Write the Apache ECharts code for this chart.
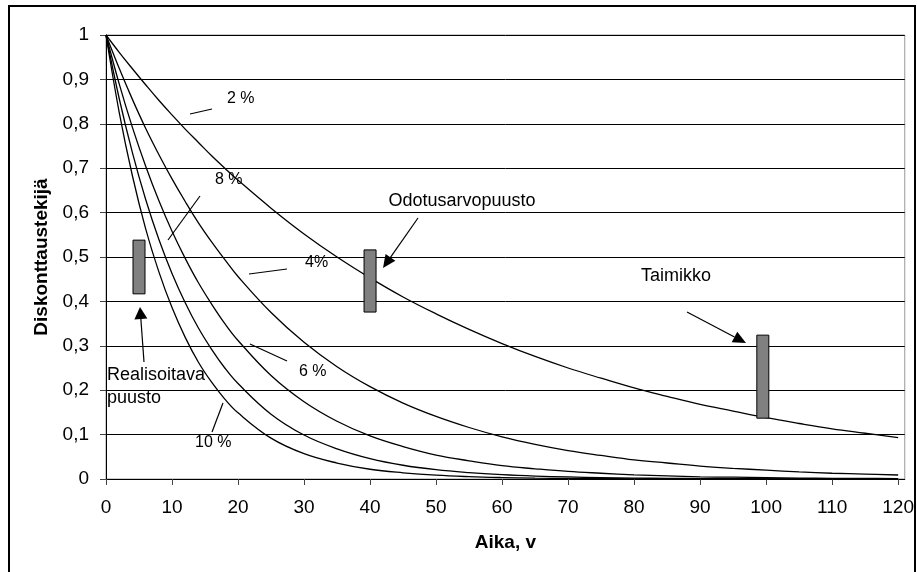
<!DOCTYPE html>
<html>
<head>
<meta charset="utf-8">
<script src="https://cdn.jsdelivr.net/npm/echarts@6/dist/echarts.min.js"></script>
<style>
html,body{margin:0;padding:0;background:#fff;}
#chart{width:917px;height:572px;}
</style>
</head>
<body>
<div id="chart"></div>
<script>
// ---- data ----
const years = [0,2,4,6,8,10,12,14,16,18,20,25,30,35,40,45,50,55,60,65,70,75,80,85,90,95,100,105,110,115,120];
const d2  = [1,0.961,0.924,0.888,0.853,0.820,0.788,0.758,0.728,0.700,0.673,0.610,0.552,0.500,0.453,0.410,0.372,0.337,0.305,0.276,0.250,0.227,0.205,0.186,0.168,0.153,0.138,0.125,0.113,0.103,0.093];
const d4  = [1,0.925,0.855,0.790,0.731,0.676,0.625,0.577,0.534,0.494,0.456,0.375,0.308,0.253,0.208,0.171,0.141,0.116,0.095,0.078,0.064,0.053,0.043,0.036,0.029,0.024,0.020,0.016,0.013,0.011,0.009];
const d6  = [1,0.890,0.792,0.705,0.627,0.558,0.497,0.442,0.394,0.350,0.312,0.233,0.174,0.130,0.097,0.073,0.054,0.041,0.030,0.023,0.017,0.013,0.0095,0.007,0.005,0.004,0.003,0.002,0.0016,0.0012,0.0009];
const d8  = [1,0.857,0.735,0.630,0.540,0.463,0.397,0.340,0.292,0.250,0.215,0.146,0.099,0.068,0.046,0.031,0.021,0.0145,0.0099,0.0067,0.0046,0.0031,0.0021,0.0014,0.001,0.0007,0.0005,0.0003,0.0002,0.0001,0.0001];
const d10 = [1,0.826,0.683,0.564,0.467,0.386,0.319,0.263,0.218,0.180,0.149,0.092,0.057,0.036,0.022,0.014,0.0085,0.0053,0.0033,0.002,0.0013,0.0008,0.0005,0.0003,0.0002,0.0001,0.0001,0,0,0,0];

const barNames = ['Realisoitava puusto','Odotusarvopuusto','Taimikko'];
const barX    = [5, 40, 99.5];
const barLow  = [0.417, 0.376, 0.137];
const barHigh = [0.538, 0.516, 0.324];

const xTicks = [0,10,20,30,40,50,60,70,80,90,100,110,120];
const yTicks = [0,0.1,0.2,0.3,0.4,0.5,0.6,0.7,0.8,0.9,1];
const yTickLabels = ['0','0,1','0,2','0,3','0,4','0,5','0,6','0,7','0,8','0,9','1'];

const FONT = '"Liberation Sans", Arial, sans-serif';

function lineSeries(name, vals){
  return {
    name: name, type: 'line',
    data: years.map((t,i)=>[t, vals[i]]),
    showSymbol: false, symbol: 'none',
    smooth: 0.4,
    lineStyle: {color:'#000', width:1.3},
    silent: true, z: 3
  };
}

function arrow(x1,y1,x2,y2,len,wid){
  const dx = x2-x1, dy = y2-y1, L = Math.sqrt(dx*dx+dy*dy);
  const ux = dx/L, uy = dy/L, px = -uy, py = ux;
  const bx = x2-ux*len, by = y2-uy*len;
  return [
    {type:'line', shape:{x1:x1,y1:y1,x2:bx,y2:by}, style:{stroke:'#000', lineWidth:1.2}, z:10},
    {type:'polygon', shape:{points:[[x2,y2],[bx+px*wid/2,by+py*wid/2],[bx-px*wid/2,by-py*wid/2]]}, style:{fill:'#000'}, z:10}
  ];
}
function txt(x,y,s,size,align){
  return {type:'text', x:x, y:y, style:{text:s, font: size+'px '+FONT, fill:'#000', textAlign:align||'left', textVerticalAlign:'middle'}, z:10};
}
function seg(x1,y1,x2,y2){
  return {type:'line', shape:{x1:x1,y1:y1,x2:x2,y2:y2}, style:{stroke:'#000', lineWidth:1.2}, z:10};
}

const graphics = [
  {type:'rect', shape:{x:9,y:6,width:906,height:640}, style:{fill:'none', stroke:'#000', lineWidth:2}, z:20},
  // curve labels
  txt(227,99,'2 %',16), seg(190,114,212,109),
  txt(215,180,'8 %',16), seg(168,240,200,196),
  txt(305,263,'4%',16), seg(249,274,287,269),
  txt(299,372,'6 %',16), seg(250,344,287,361),
  txt(195,443,'10 %',16), seg(223,403,212,432),
  // bar annotations
  txt(107,375,'Realisoitava',18), txt(107,398,'puusto',18),
  txt(462,201,'Odotusarvopuusto',18,'center'),
  txt(641,276,'Taimikko',18)
].concat(arrow(144,362,140,307,12,13))
 .concat(arrow(418,218,383,268,13,12))
 .concat(arrow(687,312,746,343,13,12));

const chart = echarts.init(document.getElementById('chart'), null, {renderer:'canvas'});
chart.setOption({
  backgroundColor:'#fff',
  animation:false,
  grid:{left:106, top:35, right:12, bottom:93, show:true, borderColor:'#999', borderWidth:1, backgroundColor:'transparent'},
  xAxis:{
    type:'value', min:0, max:121, interval:10,
    name:'Aika, v', nameLocation:'middle', nameGap:54,
    nameTextStyle:{fontFamily:FONT, fontSize:19, fontWeight:'bold', color:'#000'},
    axisLine:{lineStyle:{color:'#000', width:1}},
    axisTick:{show:true, length:6, customValues:xTicks, lineStyle:{color:'#444'}},
    axisLabel:{customValues:xTicks, margin:19, fontFamily:FONT, fontSize:19, color:'#000',
      formatter:v => (xTicks.indexOf(v) >= 0 ? String(v) : '')},
    splitLine:{show:false}
  },
  yAxis:{
    type:'value', min:0, max:1, interval:0.1,
    name:'Diskonttaustekijä', nameLocation:'middle', nameGap:55,
    nameTextStyle:{fontFamily:FONT, fontSize:19, fontWeight:'bold', color:'#000'},
    axisLine:{show:true, lineStyle:{color:'#000', width:1}},
    axisTick:{show:true, length:6, lineStyle:{color:'#444'}},
    axisLabel:{margin:17, fontFamily:FONT, fontSize:19, color:'#000',
      formatter:v => { const i = yTicks.findIndex(t => Math.abs(t-v) < 1e-6); return i >= 0 ? yTickLabels[i] : ''; }},
    splitLine:{show:true, lineStyle:{color:'#000', width:1}}
  },
  series:[
    lineSeries('2 %', d2),
    lineSeries('4 %', d4),
    lineSeries('6 %', d6),
    lineSeries('8 %', d8),
    lineSeries('10 %', d10),
    {
      type:'custom', name:'puusto', z:5, silent:true,
      data: barX.map((x,i)=>[x, barLow[i], barHigh[i]]),
      encode:{x:0, y:[1,2]},
      renderItem:function(params, api){
        const p1 = api.coord([api.value(0), api.value(2)]);
        const p2 = api.coord([api.value(0), api.value(1)]);
        const w = 12;
        return {type:'rect', shape:{x:p1[0]-w/2, y:p1[1], width:w, height:p2[1]-p1[1]},
          style:{fill:'#808080', stroke:'#000', lineWidth:1}};
      }
    }
  ],
  graphic: graphics
});
</script>
</body>
</html>
